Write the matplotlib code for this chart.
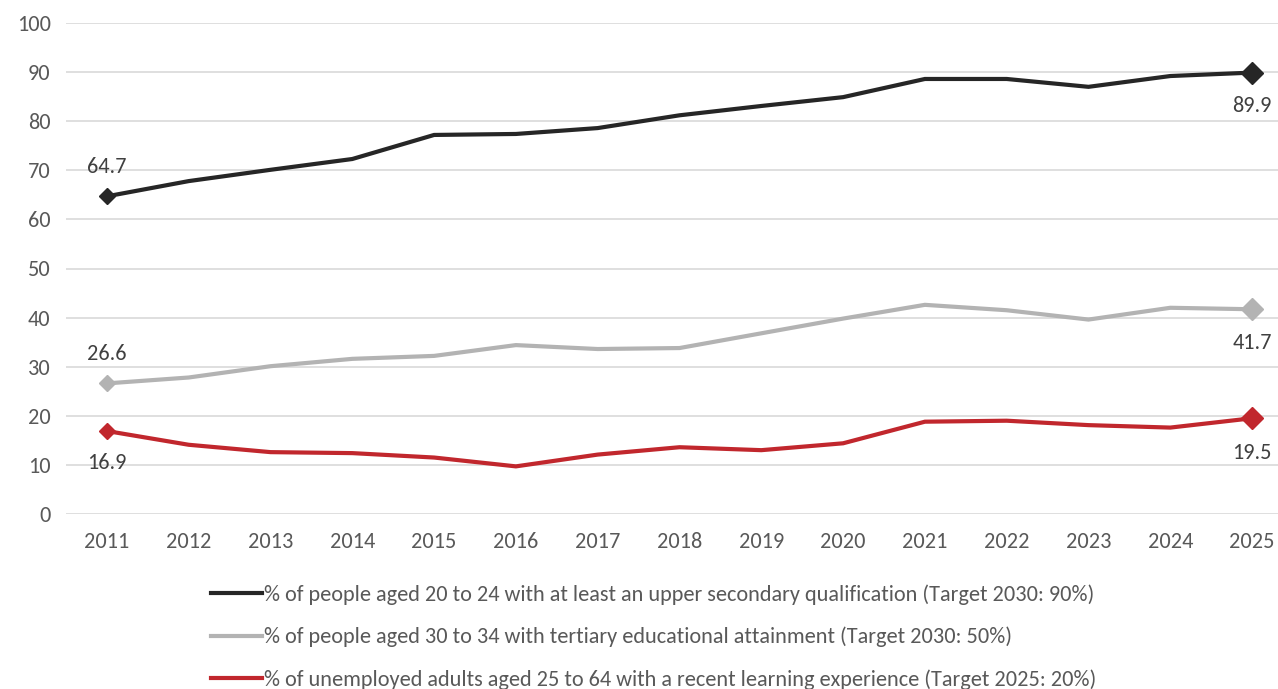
import matplotlib.pyplot as plt
import numpy as np

plt.rcParams['font.family'] = ['Carlito', 'Liberation Sans Narrow', 'Open Sans', 'DejaVu Sans']

years = [str(y) for y in range(2011, 2026)]
upper_secondary = [64.7, 67.8, 70.1, 72.3, 77.2, 77.4, 78.6, 81.2, 83.1, 84.9, 88.6, 88.6, 87.0, 89.2, 89.9]
tertiary = [26.6, 27.8, 30.1, 31.6, 32.2, 34.4, 33.6, 33.8, 36.8, 39.8, 42.6, 41.5, 39.6, 42.0, 41.7]
learning = [16.9, 14.1, 12.6, 12.4, 11.5, 9.7, 12.1, 13.6, 13.0, 14.4, 18.8, 19.0, 18.1, 17.6, 19.5]

labels = ['% of people aged 20 to 24 with at least an upper secondary qualification (Target 2030: 90%)',
          '% of people aged 30 to 34 with tertiary educational attainment (Target 2030: 50%)',
          '% of unemployed adults aged 25 to 64 with a recent learning experience (Target 2025: 20%)']
colors = ['#262626', '#b3b3b3', '#c1272d']
# label offsets (points) for first / last value
offsets = [((0, 21), (0, -24)), ((0, 21), (0, -24)), ((0, -23), (0, -25))]

fig = plt.figure(figsize=(12.78, 6.89), dpi=100)
ax = fig.add_axes([66/1278, 1 - 514/689, (1293-66)/1278, (514-23)/689])

x = np.arange(len(years))
handles = []
for vals, col, lab, (o1, o2) in zip([upper_secondary, tertiary, learning], colors, labels, offsets):
    h, = ax.plot(x, vals, color=col, lw=3, solid_joinstyle='miter', label=lab, zorder=3)
    handles.append(h)
    ax.plot(x[0], vals[0], marker='D', color=col, ms=8, zorder=4)
    ax.plot(x[-1], vals[-1], marker='D', color=col, ms=11, zorder=4)
    ax.annotate(f'{vals[0]:.1f}', (x[0], vals[0]), xytext=o1, textcoords='offset points',
                ha='center', va='center', fontsize=16, color='#404040')
    ax.annotate(f'{vals[-1]:.1f}', (x[-1], vals[-1]), xytext=o2, textcoords='offset points',
                ha='center', va='center', fontsize=16, color='#404040')

ax.set_xlim(-0.5, len(years) - 0.5)
ax.set_ylim(0, 100)
ax.set_yticks(range(0, 101, 10))
ax.set_xticks(x)
ax.set_xticklabels(years)
ax.tick_params(axis='both', length=0, labelsize=16, labelcolor='#595959')
ax.tick_params(axis='x', pad=13)
ax.tick_params(axis='y', pad=11)
ax.grid(axis='y', color='#d9d9d9', lw=1.2)
ax.set_axisbelow(True)
for s in ax.spines.values():
    s.set_visible(False)

fig.legend(handles=handles, loc='upper left', bbox_to_anchor=(191/1278, 1 - 564/689),
           frameon=False, fontsize=16, labelcolor='#595959', handlelength=2.3,
           handletextpad=0.1, labelspacing=1.0)

fig.savefig('out.png', dpi=100)
